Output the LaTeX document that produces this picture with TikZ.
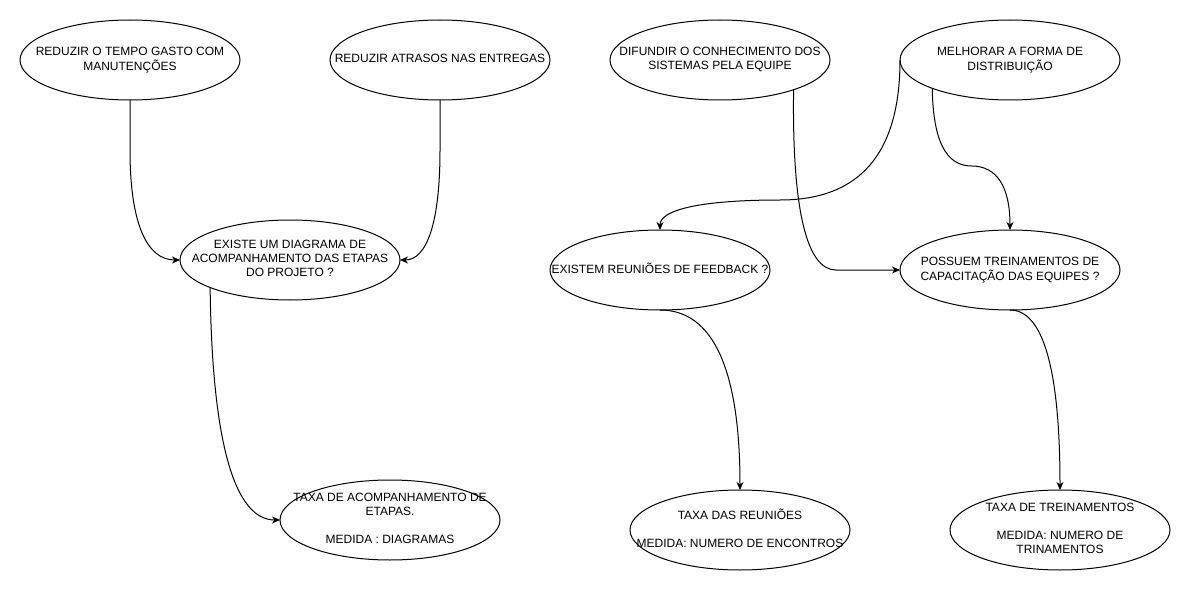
\documentclass[tikz,border=0pt]{standalone}
\usepackage{fontspec}
\setmainfont{Liberation Sans}
\usetikzlibrary{shapes.geometric,arrows.meta}
\newcommand\mltext[1]{\makebox[0pt]{\begin{tabular}{@{}c@{}}#1\end{tabular}}}
\begin{document}
\begin{tikzpicture}[x=1pt,y=-1pt,
  ell/.style={draw, ellipse, minimum width=220pt, minimum height=80pt,
    inner sep=0pt, outer sep=0pt, line width=1pt,
    font=\fontsize{12}{14}\selectfont},
  conn/.style={line width=1pt, -{Stealth[length=8pt,width=7pt,inset=2.5pt]}}]
\useasboundingbox (0,0) rectangle (1192,591);
\fill[white] (0,0) rectangle (1192,591);

\node[ell] (e1) at (130,60) {\mltext{REDUZIR O TEMPO GASTO COM\\MANUTENÇÕES}};
\node[ell] (e2) at (440,60) {\mltext{REDUZIR ATRASOS NAS ENTREGAS}};
\node[ell] (e3) at (290,260) {\mltext{EXISTE UM DIAGRAMA DE\\ACOMPANHAMENTO DAS ETAPAS\\DO PROJETO ?}};
\node[ell] (e4) at (720,60) {\mltext{DIFUNDIR O CONHECIMENTO DOS\\SISTEMAS PELA EQUIPE}};
\node[ell] (e5) at (1010,60) {\mltext{MELHORAR A FORMA DE\\DISTRIBUIÇÃO}};
\node[ell] (e6) at (660,270) {\mltext{EXISTEM REUNIÕES DE FEEDBACK ?}};
\node[ell] (e7) at (1010,270) {\mltext{POSSUEM TREINAMENTOS DE\\CAPACITAÇÃO DAS EQUIPES ?}};
\node[ell] (e8) at (390,520) {\mltext{TAXA DE ACOMPANHAMENTO DE\\ETAPAS.\\ \\MEDIDA : DIAGRAMAS}};
\node[ell] (e9) at (740,530) {\mltext{TAXA DAS REUNIÕES\\ \\MEDIDA: NUMERO DE ENCONTROS}};
\node[ell] (e10) at (1060,530) {\mltext{TAXA DE TREINAMENTOS\\ \\MEDIDA: NUMERO DE\\TRINAMENTOS}};

\draw[conn] (e1.south) -- (130,150) .. controls (130,223.3) and (146.7,260) .. (e3.west);
\draw[conn] (e2.south) -- (440,150) .. controls (440,223.3) and (426.7,260) .. (e3.east);
\draw[conn] (e3.199.9) .. controls (212,443.3) and (234.7,520) .. (e8.west);
\draw[conn] (e4.-22.75) .. controls (792,210) and (806.7,270) .. (836,270) -- (e7.west);
\draw[conn] (e5.west) .. controls (900,153.3) and (860,200) .. (780,200)
  .. controls (700,200) and (660,210) .. (e6.north);
\draw[conn] (e5.200.4) .. controls (933,140.2) and (945.8,166) .. (971.5,166)
  .. controls (997.2,166) and (1010,187.3) .. (e7.north);
\draw[conn] (e6.south) .. controls (713.3,310) and (740,370) .. (e9.north);
\draw[conn] (e7.south) .. controls (1043.3,310) and (1060,370) .. (e10.north);
\end{tikzpicture}
\end{document}
